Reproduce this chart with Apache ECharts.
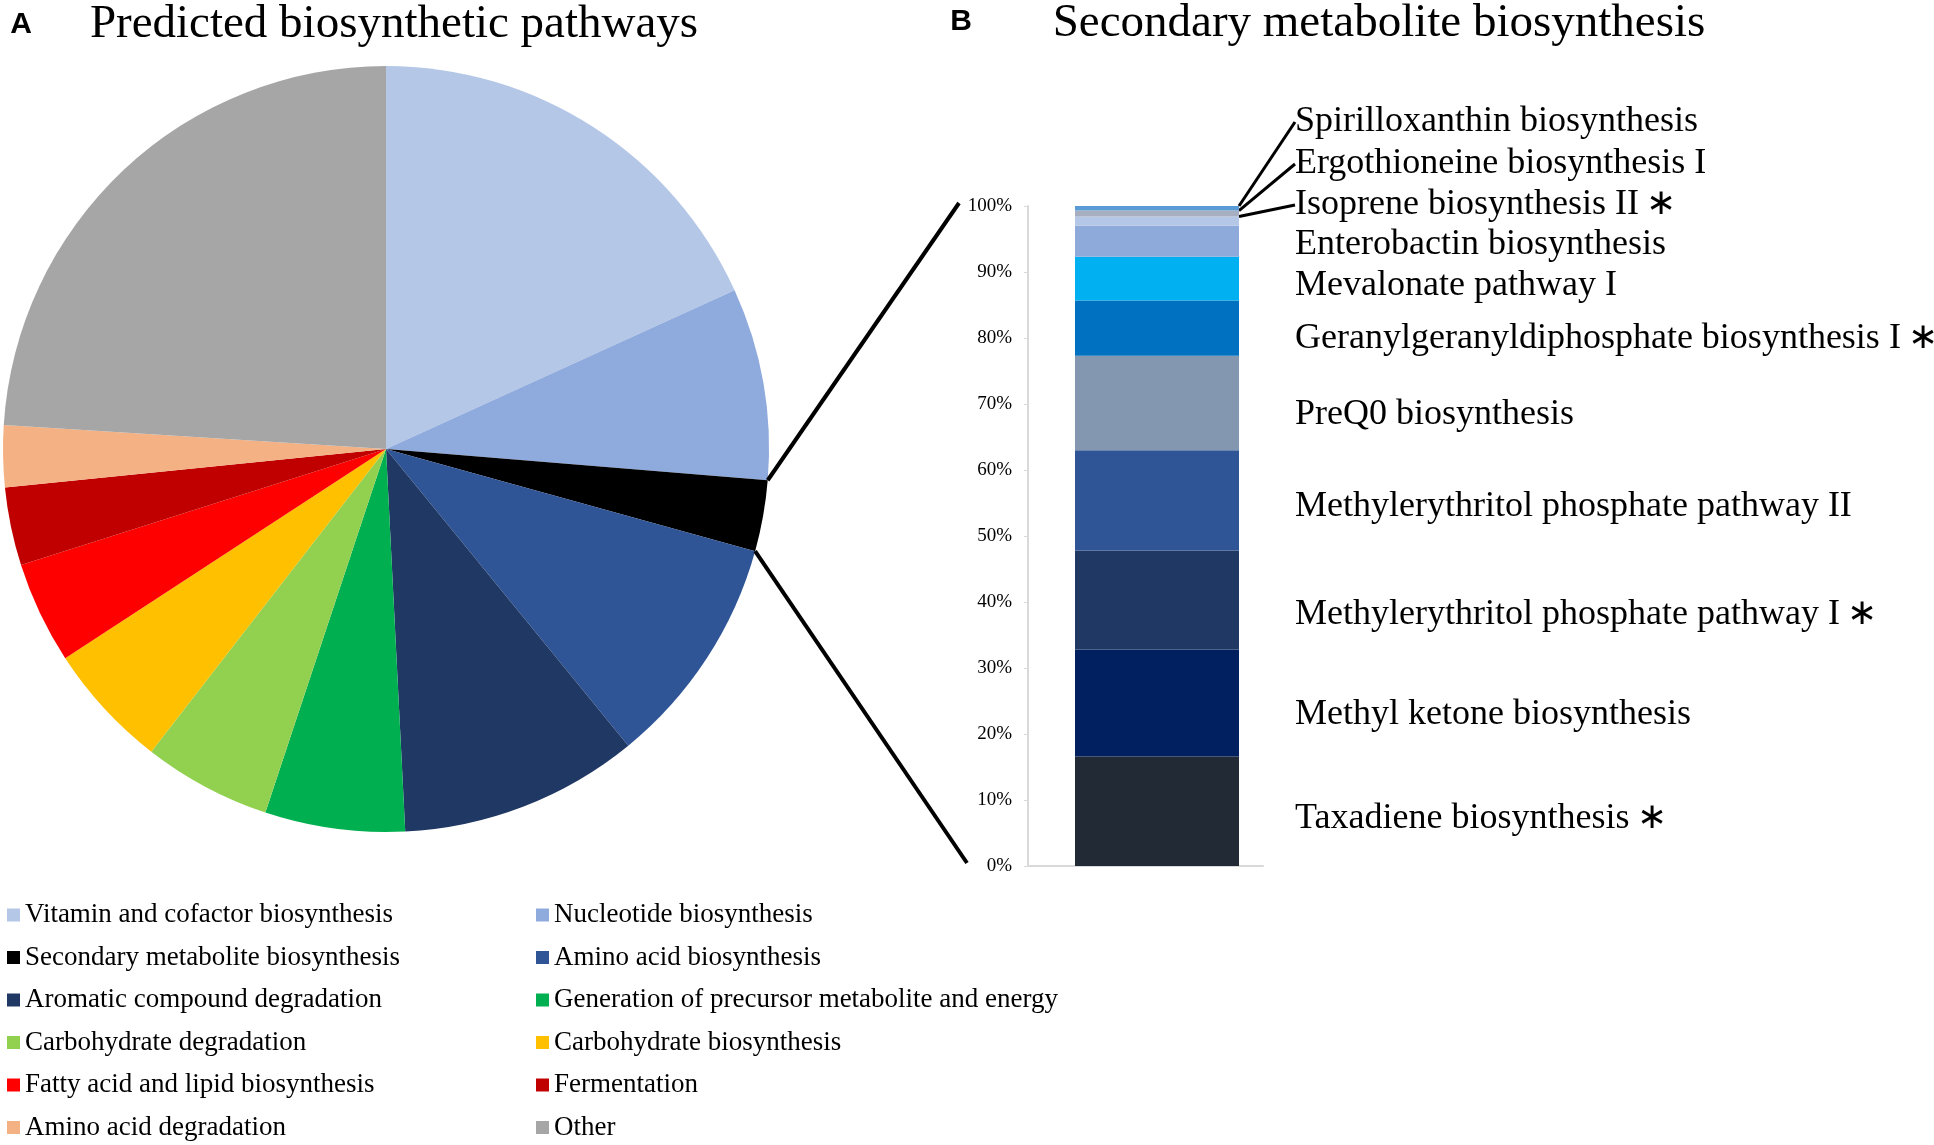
<!DOCTYPE html>
<html><head><meta charset="utf-8">
<script src="https://cdn.jsdelivr.net/npm/echarts/dist/echarts.min.js"></script>
<style>html,body{margin:0;padding:0;background:#fff}#c{width:1934px;height:1145px}</style>
</head><body><div id="c"></div>
<script>
// ---- Panel A: pie data (% of predicted pathways) ----
const pieNames = ['Vitamin and cofactor biosynthesis','Nucleotide biosynthesis','Secondary metabolite biosynthesis','Amino acid biosynthesis','Aromatic compound degradation','Generation of precursor metabolite and energy','Carbohydrate degradation','Carbohydrate biosynthesis','Fatty acid and lipid biosynthesis','Fermentation','Amino acid degradation','Other'];
const pieValues = [18.2, 8.1, 3.0, 9.8, 10.1, 5.9, 5.4, 5.3, 4.3, 3.3, 2.6, 24.0];
const pieColors = ['#b4c7e7','#8faadc','#000000','#2f5597','#203864','#00b050','#92d050','#ffc000','#ff0000','#c00000','#f4b183','#a6a6a6'];

// ---- Panel B: stacked bar data (% of secondary metabolite pathways), bottom to top ----
const barNames = ['Taxadiene biosynthesis\u2009\u2217','Methyl ketone biosynthesis','Methylerythritol phosphate pathway I\u2009\u2217','Methylerythritol phosphate pathway II','PreQ0 biosynthesis','Geranylgeranyldiphosphate biosynthesis I\u2009\u2217','Mevalonate pathway I','Enterobactin biosynthesis','Isoprene biosynthesis II\u2009\u2217','Ergothioneine biosynthesis I','Spirilloxanthin biosynthesis'];
const barValues = [16.6, 16.2, 15.0, 15.2, 14.3, 8.4, 6.6, 4.7, 1.4, 0.9, 0.7];
const barColors = ['#222a35','#002060','#1f3864','#2f5597','#8497b0','#0070c0','#00b0f0','#8eaadb','#b4c7e7','#a6aebf','#5b9bd5'];
const yMin = 0, yMax = 100, yInterval = 10;

const SERIF = '"Liberation Serif","Times New Roman",serif';
const chart = echarts.init(document.getElementById('c'), null, {renderer:'canvas'});

const PIE_C = [386, 449], PIE_R = 383;
// vertical nudges of the segment labels (layout only)
const labelDy = [7, 12, 15, 6, 12, 10, 7, 3];
// leader-line label slots for the three thin top segments
const pinned = {
  8:  {y: 205, end: -12, sdx: 3,  sdy: -3},
  9:  {y: 164, end: -1,  sdx: 2,  sdy: -3},
  10: {y: 122, end: 0,   sdx: -4, sdy: -6}
};

const barSeries = barNames.map((n, i) => {
  const s = {
    type: 'bar', name: n, stack: 'sec', xAxisIndex: 0, yAxisIndex: 0,
    data: [barValues[i]], barWidth: 164,
    itemStyle: {color: barColors[i]},
    label: {show: true, position: 'right', distance: 56, formatter: n,
      color: '#000', fontFamily: SERIF, fontSize: 36, offset: [0, labelDy[i] || 0]},
    emphasis: {disabled: true}
  };
  if (pinned[i]) {
    const p = pinned[i];
    s.label.offset = [0, 0];
    s.labelLine = {show: true, lineStyle: {color: '#000', width: 3}};
    s.labelLayout = function (prm) {
      const rx = prm.rect.x + prm.rect.width;
      const cy = prm.rect.y + prm.rect.height / 2;
      const lx = rx + 56;
      return {x: lx, y: p.y, align: 'left', verticalAlign: 'middle',
        labelLinePoints: [[rx + p.sdx, cy + p.sdy], [(rx + p.sdx + lx - 4) / 2, (cy + p.sdy + p.y + p.end) / 2], [lx - 4, p.y + p.end]]};
    };
  }
  return s;
});

const legendText = {fontFamily: SERIF, fontSize: 27, color: '#000', lineHeight: 30};
const option = {
  animation: false,
  backgroundColor: '#fff',
  color: pieColors,
  legend: [
    {orient: 'vertical', left: 7, top: 900, padding: 0, itemGap: 12.5, itemWidth: 13, itemHeight: 13, icon: 'rect',
      selectedMode: false, textStyle: legendText, data: pieNames.filter((_, i) => i % 2 === 0)},
    {orient: 'vertical', left: 536, top: 900, padding: 0, itemGap: 12.5, itemWidth: 13, itemHeight: 13, icon: 'rect',
      selectedMode: false, textStyle: legendText, data: pieNames.filter((_, i) => i % 2 === 1)}
  ],
  grid: [
    {left: 1028, top: 206, width: 258, height: 660, containLabel: false},
    {left: 1028, top: 206, width: 235, height: 660, containLabel: false}
  ],
  xAxis: [
    {type: 'category', gridIndex: 0, data: [''], axisLine: {show: false}, axisTick: {show: false}, axisLabel: {show: false}},
    {type: 'category', gridIndex: 1, data: [''], axisLine: {show: true, lineStyle: {color: '#d9d9d9', width: 2}},
      axisTick: {show: false}, axisLabel: {show: false}}
  ],
  yAxis: [
    {type: 'value', gridIndex: 0, min: yMin, max: yMax, interval: yInterval,
      axisLine: {show: true, lineStyle: {color: '#d9d9d9', width: 2}},
      axisTick: {show: true, length: 4, lineStyle: {color: '#d9d9d9'}},
      splitLine: {show: false},
      axisLabel: {formatter: '{value}%', color: '#000', fontFamily: SERIF, fontSize: 19, margin: 16}},
    {type: 'value', gridIndex: 1, min: yMin, max: yMax, show: false}
  ],
  series: [{
    type: 'pie', center: PIE_C, radius: PIE_R, startAngle: 90, clockwise: true,
    label: {show: false}, labelLine: {show: false}, emphasis: {disabled: true},
    data: pieNames.map((n, i) => ({name: n, value: pieValues[i], itemStyle: {color: pieColors[i]}}))
  }].concat(barSeries)
};
chart.setOption(option);

// connector lines from the "Secondary metabolite biosynthesis" slice to the bar axis
const total = pieValues.reduce((a, b) => a + b, 0);
const k = pieNames.indexOf('Secondary metabolite biosynthesis');
const before = pieValues.slice(0, k).reduce((a, b) => a + b, 0);
const a0 = before / total * 2 * Math.PI, a1 = (before + pieValues[k]) / total * 2 * Math.PI;
const pt = a => [PIE_C[0] + PIE_R * Math.sin(a), PIE_C[1] - PIE_R * Math.cos(a)];
const p0 = pt(a0), p1 = pt(a1);
const yTop = chart.convertToPixel({yAxisIndex: 0}, yMax);
const yBot = chart.convertToPixel({yAxisIndex: 0}, yMin);

chart.setOption({graphic: [
  {type: 'text', x: 21, y: 25, style: {text: 'A', font: 'bold 30px "Liberation Sans",Arial,sans-serif', fill: '#000', align: 'center', verticalAlign: 'middle'}},
  {type: 'text', x: 394, y: 25, style: {text: 'Predicted biosynthetic pathways', font: '47px ' + SERIF, fill: '#000', align: 'center', verticalAlign: 'middle'}},
  {type: 'text', x: 961, y: 22, style: {text: 'B', font: 'bold 30px "Liberation Sans",Arial,sans-serif', fill: '#000', align: 'center', verticalAlign: 'middle'}},
  {type: 'text', x: 1379, y: 24, style: {text: 'Secondary metabolite biosynthesis', font: '47px ' + SERIF, fill: '#000', align: 'center', verticalAlign: 'middle'}},
  {type: 'line', shape: {x1: p0[0], y1: p0[1], x2: 959, y2: yTop - 3}, style: {stroke: '#000', lineWidth: 4}, z: 10},
  {type: 'line', shape: {x1: p1[0], y1: p1[1], x2: 967, y2: yBot - 3}, style: {stroke: '#000', lineWidth: 4}, z: 10}
]});
</script></body></html>
